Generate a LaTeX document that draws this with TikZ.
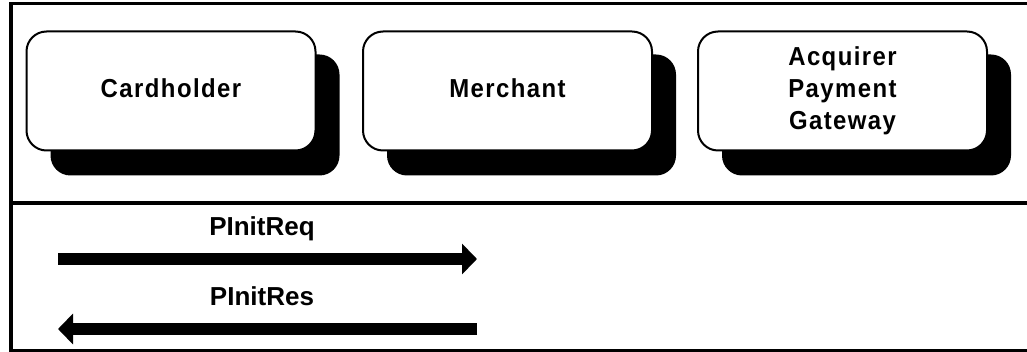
\documentclass[tikz,border=0pt]{standalone}
\usepackage{fontspec}
\usepackage{graphicx}
\setmainfont{Liberation Sans}
\usetikzlibrary{arrows.meta}

% spaced, slightly condensed bold face used inside the party boxes
\newfontfamily\partyfont[LetterSpace=6]{Liberation Sans Bold}
\newcommand{\partytext}[1]{\scalebox{0.92}[1]{\partyfont\fontsize{26}{32}\selectfont
  \begin{tabular}{@{}c@{}}#1\end{tabular}}}

\tikzset{
  frameline/.style={line width=3.5pt, line cap=rect},
  party/.style={draw, line width=2pt, fill=white, rounded corners=20pt,
    minimum width=289pt, minimum height=119pt, inner sep=0pt},
  partyshadow/.style={fill=black, rounded corners=20pt},
  msg/.style={line width=12pt, -{Triangle[length=15pt,width=30pt]}},
  msglabel/.style={font=\bfseries\fontsize{26}{30}\selectfont, inner sep=0pt}
}

\begin{document}
\begin{tikzpicture}[x=1pt, y=-1pt]
  \useasboundingbox (0,0) rectangle (1027,352);

  % outer frame: top rule, left rule, divider and bottom rule
  \draw[frameline] (11,3.5) -- (1027,3.5);
  \draw[frameline] (11,3.5) -- (11,350);
  \draw[frameline] (11,203) -- (1027,203);
  \draw[frameline] (11,350.5) -- (1027,350.5);

  % drop shadows of the three parties
  \foreach \cx in {171,507.5,842.5}
    \fill[partyshadow] (\cx-144.5+24,31.5+23) rectangle (\cx+144.5+24,150.5+25);

  % the three parties
  \node[party] (cardholder) at (171,91)   {\partytext{Cardholder}};
  \node[party] (merchant)   at (507.5,91) {\partytext{Merchant}};
  \node[party] (gateway)    at (842.5,91) {\partytext{Acquirer\\Payment\\Gateway}};

  % message end points
  \coordinate (reqA) at (58,259);
  \coordinate (reqB) at (477,259);
  \coordinate (resA) at (477,329);
  \coordinate (resB) at (58,329);

  % messages
  \draw[msg] (reqA) -- (reqB);
  \draw[msg] (resA) -- (resB);
  \node[msglabel] (reqlabel) at (262,229) {PInitReq};
  \node[msglabel] (reslabel) at (262,296) {PInitRes};
\end{tikzpicture}
\end{document}
